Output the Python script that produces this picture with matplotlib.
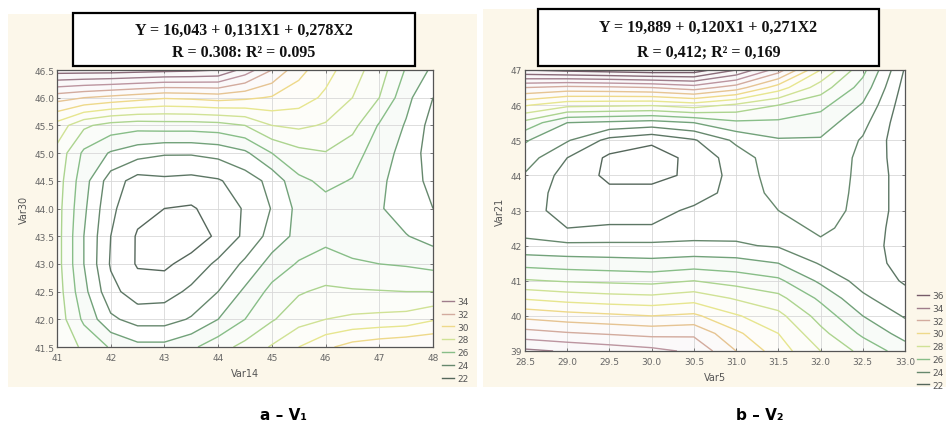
import numpy as np
import matplotlib.pyplot as plt
from matplotlib.lines import Line2D
from matplotlib.patches import Rectangle

# ---- panel a: Var14 (x) / Var30 (y), surface values
xa = [41, 41.5, 42, 42.5, 43, 43.5, 44, 44.5, 45, 45.5, 46, 46.5, 47, 47.5, 48]
ya = [41.5, 42, 42.5, 43, 43.5, 44, 44.5, 45, 45.5, 46, 46.5]
# one list per x column, values from y=41.5 up to y=46.5
za_cols = [
    [27.8, 27.6, 27.5, 27.4, 27.4, 27.4, 27.5, 27.7, 28.6, 31.4, 35.5],
    [26.8, 25.8, 25.3, 25.0, 25.0, 25.2, 25.4, 25.8, 27.2, 31.0, 35.5],
    [25.9, 24.2, 23.3, 22.9, 23.0, 23.2, 23.5, 24.9, 26.6, 30.7, 35.5],
    [25.3, 23.6, 22.5, 21.9, 21.9, 22.3, 22.6, 24.4, 26.4, 30.4, 35.4],
    [25.3, 23.6, 22.6, 21.8, 21.2, 22.0, 22.8, 24.1, 26.5, 30.1, 35.3],
    [25.8, 24.1, 23.2, 22.4, 21.4, 21.9, 22.7, 24.1, 26.5, 30.2, 35.2],
    [26.6, 25.0, 24.0, 23.2, 22.2, 22.4, 22.9, 24.3, 26.6, 30.4, 35.0],
    [27.3, 26.0, 25.2, 24.2, 23.2, 23.1, 23.5, 24.8, 27.0, 30.2, 33.6],
    [28.1, 26.9, 26.3, 25.4, 24.4, 24.05, 24.3, 26.0, 28.0, 29.9, 32.0],
    [29.0, 27.6, 26.9, 26.1, 25.3, 25.3, 25.8, 26.7, 28.2, 29.5, 30.3],
    [29.8, 28.0, 27.2, 26.3, 25.8, 25.7, 26.2, 26.95, 27.9, 28.8, 29.4],
    [30.4, 28.2, 27.1, 26.1, 25.6, 25.6, 25.95, 26.4, 27.3, 28.0, 28.4],
    [30.7, 28.3, 27.05, 26.0, 25.3, 25.1, 25.2, 25.5, 25.9, 27.0, 27.5],
    [30.9, 28.4, 27.0, 25.9, 25.05, 24.5, 24.5, 24.6, 24.9, 25.3, 25.9],
    [31.0, 28.9, 27.0, 25.7, 24.6, 24.0, 23.7, 23.5, 23.6, 24.0, 24.8],
]

# ---- panel b: Var5 (x) / Var21 (y)
xb = [28.5, 29.0, 29.5, 30.0, 30.5, 31.0, 31.5, 32.0, 32.5, 33.0]
yb = [39, 39.5, 40, 40.5, 41, 41.5, 42, 42.5, 43, 43.5, 44, 44.5, 45, 45.5, 46, 46.5, 47]
# one list per x column, values from y=47 down to y=39
zb_cols = [
    [36.0, 32.0, 29.1, 26.7, 25.1, 24.5, 23.9, 23.6, 23.5, 23.6, 24.3, 25.65, 27.1, 28.9, 30.7, 32.4, 34.2],
    [36.3, 31.7, 28.3, 25.0, 24.1, 23.0, 22.6, 22.5, 22.5, 23.0, 24.2, 25.5, 26.9, 28.6, 30.4, 32.1, 33.9],
    [36.5, 31.8, 28.2, 24.8, 22.7, 21.8, 21.8, 22.2, 22.6, 23.1, 24.2, 25.4, 26.8, 28.4, 30.2, 31.9, 33.6],
    [36.7, 32.0, 28.1, 24.6, 22.2, 21.5, 21.7, 22.3, 22.6, 23.1, 24.2, 25.3, 26.7, 28.3, 30.0, 31.7, 33.3],
    [36.6, 32.5, 28.5, 25.0, 22.9, 22.3, 22.2, 22.5, 23.2, 23.5, 24.2, 25.5, 27.0, 28.6, 30.2, 31.8, 32.8],
    [35.0, 31.5, 27.8, 25.8, 24.2, 23.5, 23.4, 23.4, 23.5, 23.7, 24.1, 25.4, 26.6, 27.9, 29.1, 30.2, 31.0],
    [32.5, 29.5, 27.0, 25.8, 24.9, 24.6, 24.5, 24.3, 24.0, 23.6, 23.9, 25.0, 26.2, 27.3, 28.3, 29.0, 29.5],
    [29.0, 27.5, 26.3, 25.5, 24.9, 24.6, 24.5, 24.4, 24.3, 24.2, 23.8, 23.9, 24.8, 25.8, 26.6, 27.3, 28.0],
    [26.3, 25.6, 24.9, 24.3, 23.9, 23.8, 23.8, 23.8, 23.8, 23.6, 23.4, 23.4, 23.6, 24.2, 25.0, 25.8, 26.7],
    [22.9, 22.6, 22.4, 22.3, 22.3, 22.4, 22.5, 22.5, 22.5, 22.5, 22.6, 22.7, 22.9, 23.3, 23.9, 24.6, 25.5],
]

levels_a = list(range(22, 36))
levels_b = list(range(22, 37))
legend_a = [34, 32, 30, 28, 26, 24, 22]
legend_b = [36, 34, 32, 30, 28, 26, 24, 22]

eq_a = ["Y = 16,043 + 0,131X1 + 0,278X2", "R = 0.308: R² = 0.095"]
eq_b = ["Y = 19,889 + 0,120X1 + 0,271X2", "R = 0,412; R² = 0,169"]

# colours per contour level (low = grey green, high = mauve)
level_color = {22: '#55675b', 23: '#5c7664', 24: '#66886d', 25: '#72a27a', 26: '#88be88',
               27: '#acd48f', 28: '#d0e295', 29: '#e7e68f', 30: '#eed98a', 31: '#e6c493',
               32: '#d3ab9e', 33: '#bc95a0', 34: '#9f7d8b', 35: '#8a6b79', 36: '#765b69'}

W, H = 946, 431
fig = plt.figure(figsize=(W / 100, H / 100), dpi=100)
fig.patch.set_facecolor('white')


def px(x0, y0, x1, y1):
    # pixel box -> figure fraction [left, bottom, width, height]
    return [x0 / W, 1 - y1 / H, (x1 - x0) / W, (y1 - y0) / H]


for box in [px(8, 15, 477, 388), px(483, 10, 946, 388)]:
    fig.patches.append(Rectangle((box[0], box[1]), box[2], box[3], transform=fig.transFigure,
                                 facecolor='#fcf7ea', edgecolor='none', zorder=-10))


def panel(rect, xs, ys, Z, levels, xticks, yticks, xfmt, yfmt, xlabel, ylabel, leg_levels, leg_xy):
    ax = fig.add_axes(rect)
    ax.set_facecolor('white')
    X, Y = np.meshgrid(xs, ys)
    cols = [level_color[l] for l in levels]
    # faint tint between lines, none in the low basins
    bands = [15] + levels + [40]
    fill_cols = ['#ffffff'] * 4 + cols[4:] + [cols[-1]]
    ax.contourf(X, Y, Z, levels=bands, colors=fill_cols, alpha=0.05)
    ax.contour(X, Y, Z, levels=levels, colors=cols, linewidths=1.0)
    ax.set_xlim(xs[0], xs[-1])
    ax.set_ylim(ys[0], ys[-1])
    ax.set_xticks(xticks)
    ax.set_yticks(yticks)
    ax.set_xticklabels([xfmt % t for t in xticks])
    ax.set_yticklabels([yfmt % t for t in yticks])
    ax.grid(True, color='#d8d8d8', linewidth=0.6)
    ax.tick_params(direction='in', length=2.5, width=0.6, colors='#666666', labelsize=6.5,
                   pad=2, top=True, right=True)
    ax.tick_params(axis='x', pad=4)
    for s in ax.spines.values():
        s.set_color('#555555')
        s.set_linewidth(0.9)
    ax.set_xlabel(xlabel, fontsize=7, color='#555555', labelpad=5)
    ax.set_ylabel(ylabel, fontsize=7, color='#555555', labelpad=4)
    handles = [Line2D([], [], color=level_color[l], lw=1.0) for l in leg_levels]
    fig.legend(handles, [str(l) for l in leg_levels], loc='upper left',
               bbox_to_anchor=(leg_xy[0] / W, 1 - leg_xy[1] / H), frameon=False,
               fontsize=6.5, handlelength=1.3, handletextpad=0.35, labelspacing=0.42,
               borderpad=0, borderaxespad=0, labelcolor='#555555')
    return ax


za = np.array(za_cols).T
zb = np.array(zb_cols).T[::-1]

panel(px(57, 71, 433, 348), xa, ya, za, levels_a, [41, 42, 43, 44, 45, 46, 47, 48],
      [41.5, 42, 42.5, 43, 43.5, 44, 44.5, 45, 45.5, 46, 46.5], '%d', '%.1f',
      'Var14', 'Var30', legend_a, (442, 298))
panel(px(525, 71, 905, 352), xb, yb, zb, levels_b,
      [28.5, 29, 29.5, 30, 30.5, 31, 31.5, 32, 32.5, 33], list(range(39, 48)), '%.1f', '%d',
      'Var5', 'Var21', legend_b, (917, 292))

# equation boxes
for (x0, y0, x1, y1), lines in [((73, 14, 415, 67), eq_a), ((538, 10, 879, 67), eq_b)]:
    b = px(x0, y0, x1, y1)
    fig.patches.append(Rectangle((b[0], b[1]), b[2], b[3], transform=fig.transFigure,
                                 facecolor='white', edgecolor='black', linewidth=1.6, zorder=10))
    cx = (x0 + x1) / 2 / W
    h = y1 - y0
    fig.text(cx, 1 - (y0 + h * 0.32) / H, lines[0], ha='center', va='center', fontsize=11.5,
             fontweight='bold', family='Liberation Serif', color='#111111', zorder=11)
    fig.text(cx, 1 - (y0 + h * 0.74) / H, lines[1], ha='center', va='center', fontsize=11.5,
             fontweight='bold', family='Liberation Serif', color='#111111', zorder=11)

fig.text(283 / W, 1 - 416 / H, 'a – V₁', ha='center', va='center', fontsize=11, fontweight='bold')
fig.text(760 / W, 1 - 416 / H, 'b – V₂', ha='center', va='center', fontsize=11, fontweight='bold')

fig.savefig('out.png', dpi=100)
